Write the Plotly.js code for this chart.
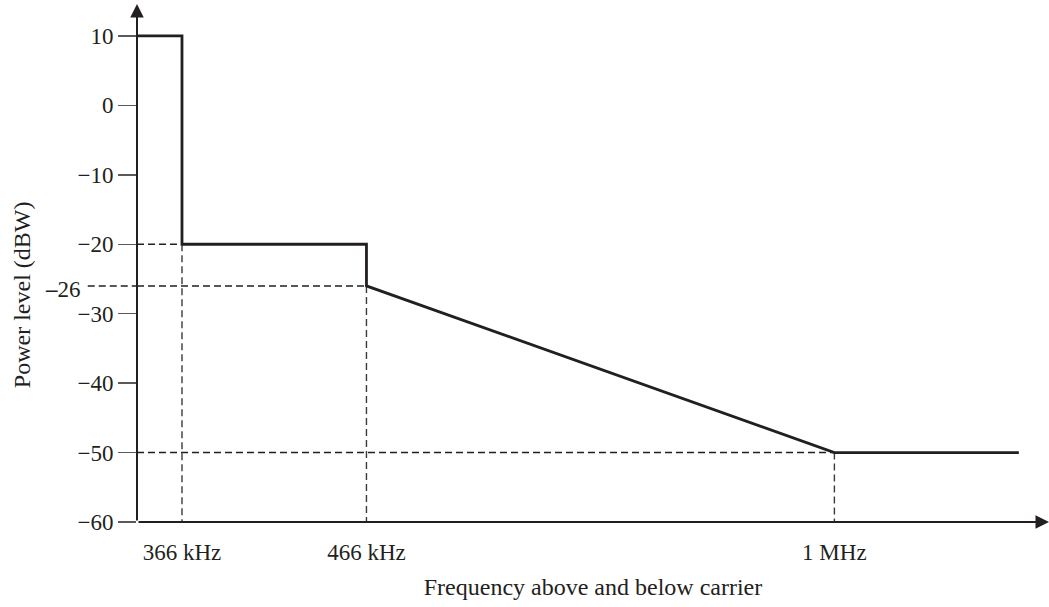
<!DOCTYPE html>
<html>
<head>
<meta charset="utf-8">
<script src="https://cdn.plot.ly/plotly-3.0.1.min.js"></script>
<style>html,body{margin:0;padding:0;background:#fff}</style>
</head>
<body>
<div id="chart" style="width:1049px;height:607px"></div>
<script>
// Frequency breakpoints (schematic positions along the axis) and their labels
const freqLabels = ['366 kHz', '466 kHz', '1 MHz'];
const freqPos = [1, 5.1, 15.5];

// Emission mask: positions along the frequency axis and power level (dBW)
const maskX = [0, 1, 1, 5.1, 5.1, 15.5, 19.6];
const maskPower = [10, 10, -20, -20, -26, -50, -50];

// Power-axis ticks
const powerTicks = [10, 0, -10, -20, -30, -40, -50, -60];

// Levels marked with dashed guides; each pairs with a frequency breakpoint
const guideLevels = [-20, -26, -50];
const markedLevel = -26;

const axisMin = -60;
const ink = '#231f20';
const serif = '"Liberation Serif", "Times New Roman", serif';

const traces = [];

// dashed guides: horizontal from the power axis, vertical down to the frequency axis
guideLevels.forEach((lvl, i) => {
  traces.push({
    x: [0, freqPos[i]], y: [lvl, lvl], mode: 'lines', hoverinfo: 'skip',
    line: {color: ink, width: 1.4, dash: '7px,4px'}, showlegend: false
  });
  traces.push({
    x: [freqPos[i], freqPos[i]], y: [lvl, axisMin], mode: 'lines', hoverinfo: 'skip',
    line: {color: '#3a3a3a', width: 1.4, dash: '7px,4px'}, showlegend: false
  });
});

// the mask itself
traces.push({
  x: maskX, y: maskPower, mode: 'lines',
  line: {color: ink, width: 2.8}, showlegend: false
});

const layout = {
  width: 1049, height: 607,
  margin: {l: 137, r: 0, t: 5, b: 85},
  paper_bgcolor: '#fff', plot_bgcolor: '#fff',
  font: {family: serif, size: 23, color: ink},
  xaxis: {
    range: [0, 20.27], showgrid: false, zeroline: false, showline: false,
    tickmode: 'array', tickvals: freqPos, ticktext: freqLabels,
    ticks: 'outside', ticklen: 9, tickcolor: 'rgba(0,0,0,0)',
    tickfont: {family: serif, size: 23, color: ink},
    title: {text: 'Frequency above and below carrier', font: {family: serif, size: 24, color: ink}, standoff: 14}
  },
  yaxis: {
    range: [-60, 14.46], showgrid: false, zeroline: false, showline: false,
    tickmode: 'array', tickvals: powerTicks,
    ticks: 'outside', ticklen: 18, tickwidth: 1.5, tickcolor: '#5a5a5a',
    tickfont: {family: serif, size: 23, color: ink}
  },
  shapes: [
    // -26 guide continues left of the power axis towards its label
    {type: 'line', xref: 'paper', yref: 'y', x0: -0.054, x1: 0, y0: markedLevel, y1: markedLevel,
     line: {color: ink, width: 1.4, dash: '7px,4px'}}
  ],
  annotations: [
    // power axis with arrow
    {x: 0, y: 14.6, ax: 0, ay: axisMin, xref: 'x', yref: 'y', axref: 'x', ayref: 'y',
     text: '', showarrow: true, arrowhead: 2, arrowsize: 1.35, arrowwidth: 2, arrowcolor: ink, standoff: 0},
    // frequency axis with arrow
    {x: 20.27, y: axisMin, ax: 0, ay: axisMin, xref: 'x', yref: 'y', axref: 'x', ayref: 'y',
     text: '', showarrow: true, arrowhead: 2, arrowsize: 1.35, arrowwidth: 2, arrowcolor: ink, standoff: 0},
    // label for the -26 dBW level
    {x: -0.0595, y: markedLevel, xref: 'paper', yref: 'y', xanchor: 'right', yanchor: 'middle',
     yshift: -4, text: '<b>\u2013</b>26', showarrow: false, font: {family: serif, size: 23, color: ink}},
    // power axis title
    {x: -0.126, y: 0.439, xref: 'paper', yref: 'paper', xanchor: 'center', yanchor: 'middle',
     text: 'Power level (dBW)', textangle: -90, showarrow: false, font: {family: serif, size: 24, color: ink}}
  ]
};

Plotly.newPlot('chart', traces, layout, {displayModeBar: false, staticPlot: true});
</script>
</body>
</html>
